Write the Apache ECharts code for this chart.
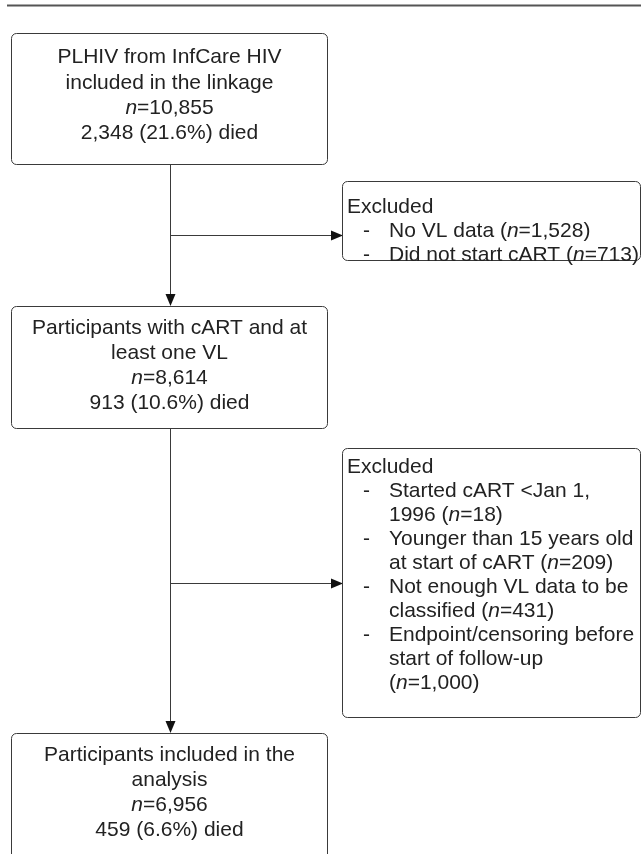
<!DOCTYPE html>
<html><head><meta charset="utf-8">
<script src="https://cdn.jsdelivr.net/npm/echarts@6/dist/echarts.min.js"></script>
<style>html,body{margin:0;padding:0;background:#fff}#c{width:641px;height:854px}</style>
</head><body><div id="c"></div>
<script>
// Flowchart content (text only); *n* marks italic n
var box1Lines = ['PLHIV from InfCare HIV', 'included in the linkage', '*n*=10,855', '2,348 (21.6%) died'];
var excl1Header = 'Excluded';
var excl1Items = [['No VL data (*n*=1,528)'], ['Did not start cART (*n*=713)']];
var box2Lines = ['Participants with cART and at', 'least one VL', '*n*=8,614', '913 (10.6%) died'];
var excl2Header = 'Excluded';
var excl2Items = [
  ['Started cART <Jan 1,', '1996 (*n*=18)'],
  ['Younger than 15 years old', 'at start of cART (*n*=209)'],
  ['Not enough VL data to be', 'classified (*n*=431)'],
  ['Endpoint/censoring before', 'start of follow-up', '(*n*=1,000)']
];
var box3Lines = ['Participants included in the', 'analysis', '*n*=6,956', '459 (6.6%) died'];

var FONT = 'Liberation Sans, Arial, sans-serif';
var FS = 21, TXT = '#222', LINE = '#3a3a3a';
function rt(s){ return s.replace(/\*n\*/g, '{i|n}'); }
var rich = { i: { fontStyle: 'italic', fontSize: FS, fontFamily: FONT, fill: TXT } };
var els = [];
function text(x, y, s, align){
  els.push({ type:'text', x:x, y:y, silent:true, style:{ text: rt(s), rich: rich, fontSize: FS, fontFamily: FONT, fill: TXT, align: align, verticalAlign:'middle' } });
}
function box(b){
  els.push({ type:'rect', shape:{ x:b.x+0.5, y:b.y+0.5, width:b.w, height:b.h, r:5 }, style:{ fill:'#fff', stroke:LINE, lineWidth:1 } });
}
function line(x1,y1,x2,y2,w,c){
  els.push({ type:'line', shape:{x1:x1,y1:y1,x2:x2,y2:y2}, style:{ stroke:c||LINE, lineWidth:w||1 } });
}
function arrowDown(x, y){ // tip at y
  els.push({ type:'polygon', shape:{ points:[[x-5,y-12],[x+5,y-12],[x,y]] }, style:{ fill:'#111' } });
}
function arrowRight(x, y){
  els.push({ type:'polygon', shape:{ points:[[x-12,y-5],[x-12,y+5],[x,y]] }, style:{ fill:'#111' } });
}
function centerBox(b, lines, y0, step){
  box(b);
  lines.forEach(function(s,i){ text(b.x + b.w/2 + 0.5, y0 + i*step, s, 'center'); });
}
function exclBox(b, header, items, y0, step){
  box(b);
  var y = y0;
  text(b.x + 5, y, header, 'left'); y += step;
  items.forEach(function(it){
    text(b.x + 21, y, '-', 'left');
    it.forEach(function(s){ text(b.x + 47, y, s, 'left'); y += step; });
  });
}

// top rule
line(7, 5.5, 641, 5.5, 2, '#555');
// connectors
var cx = 170.5;
line(cx, 164, cx, 300); arrowDown(cx, 306);
line(cx, 235.5, 331, 235.5); arrowRight(343, 235.5);
line(cx, 428, cx, 727); arrowDown(cx, 733);
line(cx, 583.5, 331, 583.5); arrowRight(343, 583.5);

var B1 = {x:11, y:33, w:316, h:131};
var E1 = {x:342, y:181, w:298, h:79};
var B2 = {x:11, y:306, w:316, h:122};
var E2 = {x:342, y:448, w:298, h:269};
var B3 = {x:11, y:733, w:316, h:140};
centerBox(B1, box1Lines, 57.5, 25.3);
exclBox(E1, excl1Header, excl1Items, 207, 24);
centerBox(B2, box2Lines, 328.5, 25);
exclBox(E2, excl2Header, excl2Items, 467, 24);
centerBox(B3, box3Lines, 755.5, 25);

var chart = echarts.init(document.getElementById('c'), null, {renderer:'canvas'});
chart.setOption({ animation:false, backgroundColor:'#fff', graphic:{ elements: els } });
</script></body></html>
